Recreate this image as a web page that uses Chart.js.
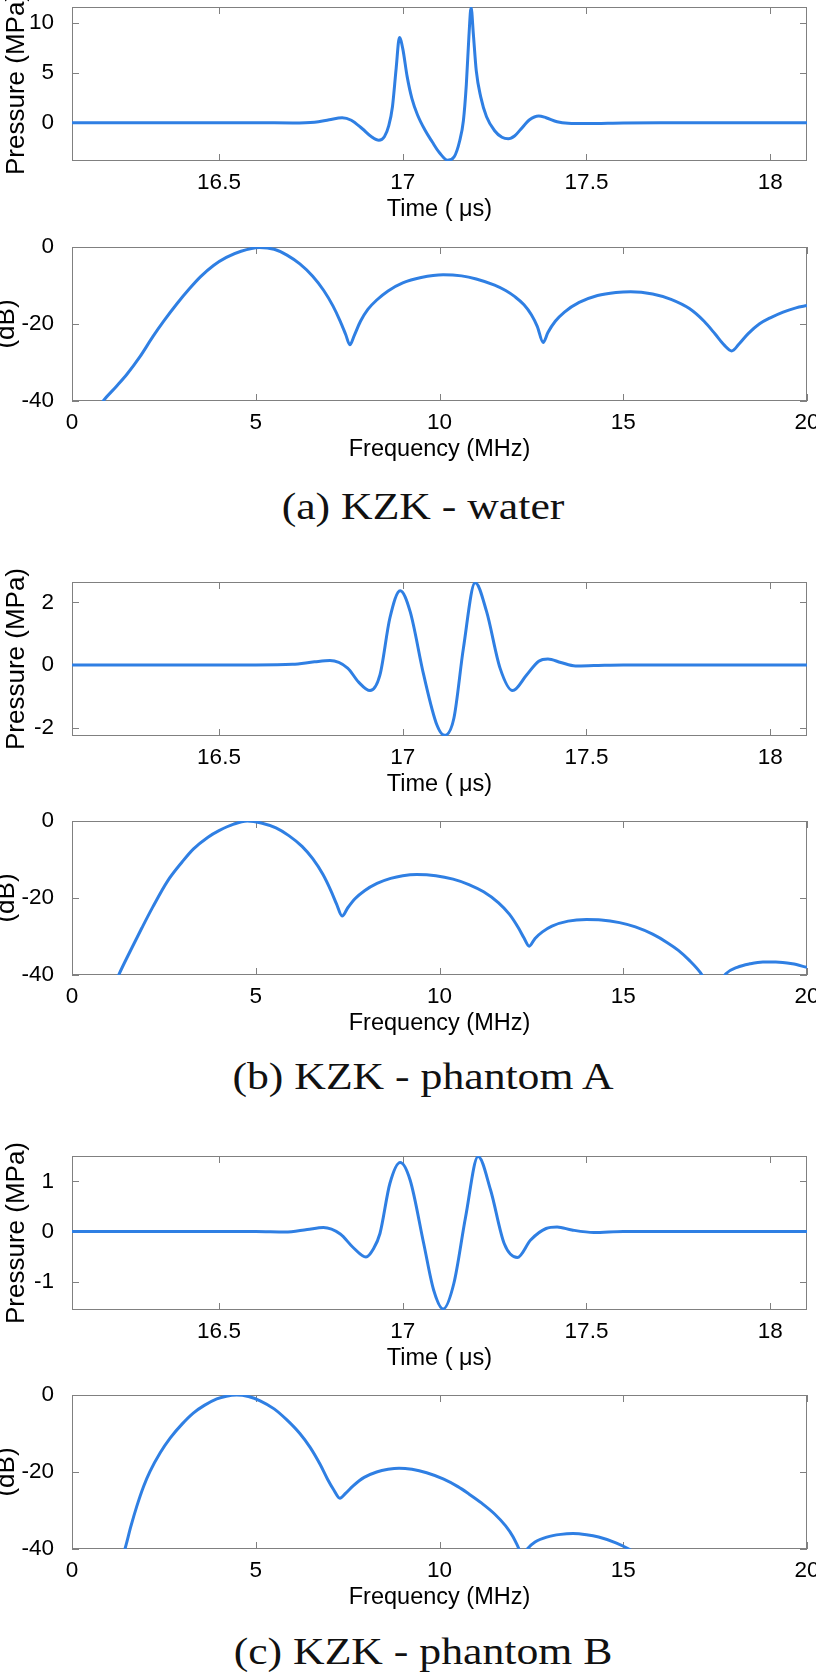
<!DOCTYPE html>
<html>
<head>
<meta charset="utf-8">
<script src="https://cdn.jsdelivr.net/npm/chart.js@4/dist/chart.umd.min.js"></script>
<style>
  body { margin: 0; background: #fff; }
  #page { position: relative; width: 816px; height: 1672px; overflow: hidden; background: #fff; }
  canvas { position: absolute; left: 0; }
  .caption {
    position: absolute; left: 0; width: 846px; text-align: center;
    font-family: 'Liberation Serif', 'Times New Roman', serif; font-size: 38px;
    line-height: 38px; color: #111; transform: scaleX(1.15); transform-origin: 423px 0;
  }
</style>
</head>
<body>
<div id="page">
  <canvas id="waterTime" width="816" height="238" style="top:-13px"></canvas>
  <canvas id="waterSpec" width="816" height="238" style="top:227px"></canvas>
  <div class="caption" style="top:487px">(a) KZK - water</div>
  <canvas id="phantomATime" width="816" height="238" style="top:562px"></canvas>
  <canvas id="phantomASpec" width="816" height="238" style="top:801px"></canvas>
  <div class="caption" style="top:1057px">(b) KZK - phantom A</div>
  <canvas id="phantomBTime" width="816" height="238" style="top:1136px"></canvas>
  <canvas id="phantomBSpec" width="816" height="238" style="top:1375px"></canvas>
  <div class="caption" style="top:1632px">(c) KZK - phantom B</div>
</div>
<script>
// tick labels
const timeTicks = [16.5, 17, 17.5, 18];
const freqTicks = [0, 5, 10, 15, 20];
const dbTicks = [-40, -20, 0];
const waterPressureTicks = [0, 5, 10];
const phantomAPressureTicks = [-2, 0, 2];
const phantomBPressureTicks = [-1, 0, 1];

// (a) water: time signal (us, MPa)
const waterTime = [16.1, 16.6, 16.7, 16.76, 16.8, 16.835, 16.86, 16.89, 16.915, 16.935, 16.95, 16.962,
  16.972, 16.982, 16.991, 17.0, 17.012, 17.025, 17.04, 17.06, 17.08, 17.1, 17.122, 17.14, 17.155,
  17.165, 17.173, 17.18, 17.186, 17.192, 17.2, 17.212, 17.228, 17.25, 17.27, 17.287, 17.305, 17.32,
  17.345, 17.37, 17.39, 17.42, 17.45, 17.5, 17.6, 17.7, 18.1];
const waterPressure = [0, 0, -0.02, 0.05, 0.3, 0.5, 0.25, -0.6, -1.4, -1.75, -1.4, -0.3,
  1.6, 5.4, 8.5, 7.4, 4.6, 2.4, 0.8, -0.7, -1.9, -3.0, -3.75, -3.4, -1.8,
  0.2, 3.8, 8.6, 11.5, 8.9, 5.2, 2.6, 0.6, -0.8, -1.45, -1.6, -1.3, -0.7,
  0.3, 0.68, 0.5, 0.1, -0.05, -0.08, -0.02, 0, 0];
// (a) water: spectrum (MHz, dB)
const waterFreq = [0.6, 0.85, 1.2, 1.5, 1.85, 2.2, 2.5, 2.85, 3.2, 3.5, 3.85, 4.2, 4.6, 5.1, 5.5,
  5.85, 6.2, 6.55, 6.85, 7.1, 7.3, 7.45, 7.56, 7.68, 7.85, 8.05, 8.3, 8.6, 9.0, 9.5, 10.1, 10.6,
  11.0, 11.5, 11.8, 12.05, 12.3, 12.5, 12.66, 12.82, 12.95, 13.15, 13.4, 13.8, 14.3, 14.8, 15.2,
  15.8, 16.3, 16.8, 17.2, 17.5, 17.75, 17.95, 18.15, 18.4, 18.7, 19.0, 19.35, 19.7, 20.0];
const waterDb = [-44, -40, -36.3, -33, -28.5, -23.3, -19.2, -14.8, -10.8, -7.7, -4.8, -2.7, -1.1, -0.15, -0.6,
  -2.1, -4.4, -7.6, -11.3, -15.3, -19.3, -22.8, -25.4, -23, -19.3, -16.2, -13.7, -11.4, -9.3, -7.9, -7.2, -7.5,
  -8.3, -9.9, -11.3, -12.9, -15.0, -17.6, -20.6, -24.8, -22.2, -19.3, -16.9, -14.4, -12.6, -11.8, -11.6,
  -12.2, -13.6, -16.0, -19.3, -22.6, -25.5, -27, -25.2, -22.5, -20.0, -18.4, -16.9, -15.8, -15.2];

// (b) phantom A
const phantomATime = [16.1, 16.6, 16.7, 16.76, 16.802, 16.85, 16.88, 16.911, 16.938, 16.965, 16.993,
  17.02, 17.057, 17.093, 17.114, 17.139, 17.165, 17.197, 17.228, 17.265, 17.299, 17.337, 17.37, 17.395,
  17.43, 17.47, 17.52, 17.6, 18.1];
const phantomAPressure = [0, 0, 0.02, 0.1, 0.14, -0.1, -0.55, -0.82, -0.32, 1.5, 2.37,
  1.71, -0.32, -1.92, -2.25, -1.71, 0.53, 2.63, 1.71, -0.11, -0.82, -0.32, 0.12, 0.19,
  0.08, -0.03, -0.02, 0, 0];
const phantomAFreq = [1.0, 1.27, 1.6, 1.9, 2.2, 2.6, 3.0, 3.3, 3.7, 4.0, 4.4, 4.77, 5.15, 5.55, 5.9,
  6.26, 6.55, 6.83, 7.05, 7.2, 7.35, 7.5, 7.7, 7.96, 8.3, 8.67, 9.0, 9.38, 9.9, 10.37, 10.8, 11.2,
  11.6, 11.9, 12.15, 12.3, 12.44, 12.6, 12.8, 13.06, 13.5, 14.0, 14.4, 14.9, 15.33, 15.8, 16.2, 16.5,
  16.8, 17.1, 17.3, 17.45, 17.6, 17.8, 18.1, 18.44, 18.8, 19.15, 19.6, 20.0];
const phantomADb = [-46, -40, -33.5, -27.8, -22.3, -15.6, -10.6, -7.3, -4.2, -2.5, -0.8, 0, -0.5, -1.8, -3.8,
  -6.6, -9.8, -13.9, -18.2, -21.6, -24.7, -22.6, -20.2, -18.1, -16.2, -14.9, -14.2, -13.9, -14.2, -15.1, -16.5, -18.4,
  -21.2, -24.2, -27.8, -30.4, -32.5, -30.5, -28.8, -27.3, -26.0, -25.6, -25.7, -26.4, -27.5, -29.4, -31.6, -33.6,
  -36.2, -39.4, -42.5, -45, -42.5, -39.6, -38.0, -37.1, -36.6, -36.6, -37.1, -38];

// (c) phantom B
const phantomBTime = [16.1, 16.6, 16.68, 16.74, 16.784, 16.83, 16.865, 16.9, 16.92, 16.938, 16.965,
  16.993, 17.02, 17.057, 17.084, 17.11, 17.139, 17.171, 17.205, 17.239, 17.276, 17.312, 17.348, 17.39,
  17.42, 17.46, 17.52, 17.6, 18.1];
const phantomBPressure = [0, 0, -0.01, 0.04, 0.08, -0.05, -0.32, -0.51, -0.35, -0.04, 0.96,
  1.38, 1.03, -0.24, -1.17, -1.55, -1.04, 0.29, 1.5, 0.83, -0.24, -0.52, -0.17, 0.06,
  0.09, 0.03, -0.02, 0, 0];
const phantomBFreq = [1.2, 1.44, 1.6, 1.76, 1.95, 2.12, 2.4, 2.67, 3.0, 3.3, 3.6, 3.94, 4.2, 4.48, 4.8,
  5.12, 5.5, 5.84, 6.2, 6.48, 6.75, 6.95, 7.12, 7.29, 7.45, 7.65, 7.95, 8.29, 8.6, 8.9, 9.25, 9.65,
  10.1, 10.5, 10.8, 11.15, 11.5, 11.8, 12.0, 12.14, 12.27, 12.39, 12.6, 12.92, 13.3, 13.63, 14.0,
  14.33, 14.8, 15.15, 15.4];
const phantomBDb = [-47, -40, -34.2, -29.0, -23.7, -19.9, -15.0, -11.2, -7.5, -4.7, -2.7, -1.0, -0.3, 0, -0.4,
  -1.5, -3.6, -6.4, -10.0, -13.6, -18.0, -21.8, -24.6, -26.8, -25.5, -23.6, -21.4, -20.0, -19.3, -19.0, -19.3, -20.2,
  -21.8, -23.8, -25.7, -28.1, -30.9, -34.0, -36.8, -39.5, -42, -40, -38.2, -36.9, -36.2, -36, -36.3,
  -36.9, -38.4, -40, -41.5];

Chart.defaults.font.family = "'Liberation Sans', Arial, sans-serif";
Chart.defaults.color = '#000';

const lineColor = '#2f7fe3';
const frameColor = '#808080';

// MATLAB-style box with ticks pointing inward
const frameTicks = {
  id: 'frameTicks',
  beforeDatasetsDraw(chart) {
    const { ctx, chartArea: a, scales: { x, y } } = chart;
    ctx.save();
    ctx.strokeStyle = frameColor;
    ctx.lineWidth = 1;
    ctx.strokeRect(a.left + 0.5, a.top + 0.5, a.right - a.left - 1, a.bottom - a.top - 1);
    ctx.beginPath();
    x.ticks.forEach(t => {
      const px = Math.round(x.getPixelForValue(t.value)) + 0.5;
      ctx.moveTo(px, a.bottom); ctx.lineTo(px, a.bottom - 7);
      ctx.moveTo(px, a.top); ctx.lineTo(px, a.top + 7);
    });
    y.ticks.forEach(t => {
      const py = Math.round(y.getPixelForValue(t.value)) + 0.5;
      ctx.moveTo(a.left, py); ctx.lineTo(a.left + 7, py);
      ctx.moveTo(a.right, py); ctx.lineTo(a.right - 7, py);
    });
    ctx.stroke();
    ctx.restore();
  }
};

function makeChart(id, xs, ys, opt) {
  const points = xs.map((v, i) => ({ x: v, y: ys[i] }));
  return new Chart(document.getElementById(id), {
    type: 'line',
    data: {
      datasets: [{
        data: points,
        borderColor: lineColor,
        borderWidth: 3,
        pointRadius: 0,
        cubicInterpolationMode: 'monotone',
        fill: false
      }]
    },
    options: {
      responsive: false,
      animation: false,
      events: [],
      layout: { padding: { top: 20, right: 9, bottom: 0, left: 0 } },
      plugins: { legend: { display: false }, tooltip: { enabled: false } },
      scales: {
        x: {
          type: 'linear',
          min: opt.xMin,
          max: opt.xMax,
          grid: { display: false },
          border: { display: false },
          afterBuildTicks: s => { s.ticks = opt.xTicks.map(v => ({ value: v })); },
          afterFit: s => { s.height = 64; s.paddingLeft = 0; s.paddingRight = 0; },
          ticks: { font: { size: 22.5 }, padding: 0, maxRotation: 0, autoSkip: false, callback: v => String(v) },
          title: { display: true, text: opt.xTitle, font: { size: 23.5, lineHeight: 1 }, padding: { top: 0, bottom: 4 } }
        },
        y: {
          type: 'linear',
          min: opt.yMin,
          max: opt.yMax,
          grid: { display: false },
          border: { display: false },
          afterBuildTicks: s => { s.ticks = opt.yTicks.map(v => ({ value: v })); },
          afterFit: s => { s.width = 72; s.paddingTop = 0; s.paddingBottom = 0; },
          ticks: { font: { size: 22.5 }, padding: 10, autoSkip: false, callback: v => String(v) },
          title: { display: true, text: opt.yTitle, font: { size: 26, lineHeight: 1 }, padding: { top: opt.yTitlePad, bottom: 0 } }
        }
      }
    },
    plugins: [frameTicks]
  });
}

const timeAxis = { xMin: 16.1, xMax: 18.1, xTicks: timeTicks, xTitle: 'Time ( \u03bcs)', yTitle: 'Pressure (MPa)', yTitlePad: 4 };
const freqAxis = { xMin: 0, xMax: 20, xTicks: freqTicks, xTitle: 'Frequency (MHz)', yMin: -40, yMax: 0, yTicks: dbTicks, yTitle: '(dB)', yTitlePad: -6 };

makeChart('waterTime', waterTime, waterPressure, { ...timeAxis, yMin: -3.82, yMax: 11.55, yTicks: waterPressureTicks });
makeChart('waterSpec', waterFreq, waterDb, freqAxis);
makeChart('phantomATime', phantomATime, phantomAPressure, { ...timeAxis, yMin: -2.27, yMax: 2.65, yTicks: phantomAPressureTicks });
makeChart('phantomASpec', phantomAFreq, phantomADb, freqAxis);
makeChart('phantomBTime', phantomBTime, phantomBPressure, { ...timeAxis, yMin: -1.57, yMax: 1.51, yTicks: phantomBPressureTicks });
makeChart('phantomBSpec', phantomBFreq, phantomBDb, freqAxis);
</script>
</body>
</html>
